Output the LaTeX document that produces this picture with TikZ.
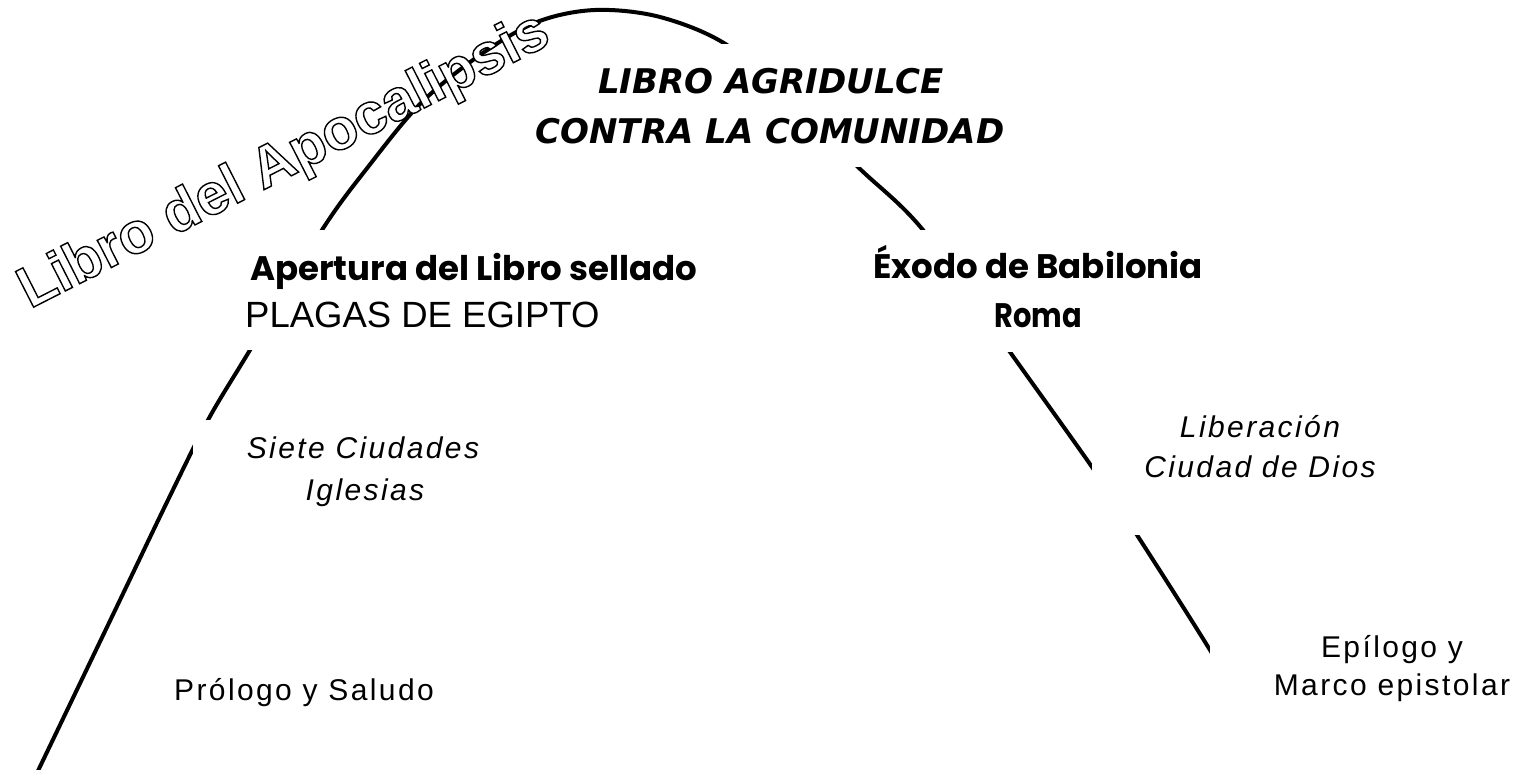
\documentclass[tikz,border=0pt]{standalone}
\usepackage{fontspec}
\usepackage{graphicx}
\setmainfont{Liberation Sans}
\newfontfamily\titlefont{DejaVu Sans}
\newfontfamily\headfont{Poppins}
\newfontfamily\labelfont{Liberation Sans}[LetterSpace=8]
\newfontfamily\plagasfont{Liberation Sans}
\newfontfamily\outlinefont{Liberation Sans}
\newcommand{\outlinedtext}[1]{\special{pdf:literal direct 0 G 2 Tr 1.4 w}#1\special{pdf:literal direct 0 Tr}}
\begin{document}
\begin{tikzpicture}[x=1pt,y=-1pt,
  arcline/.style={line width=4pt, black, line cap=round},
  cover/.style={fill=white, draw=none, inner sep=0pt, outer sep=0pt},
  titletext/.style={font={\titlefont\bfseries\itshape\fontsize{34}{40}\selectfont}, inner sep=0pt, anchor=base},
  headtext/.style={font={\headfont\bfseries\fontsize{34}{40}\selectfont}, inner sep=0pt, anchor=base},
  plagastext/.style={font={\plagasfont\fontsize{36.5}{40}\selectfont}, inner sep=0pt, anchor=base},
  itltext/.style={font={\labelfont\itshape\fontsize{30}{36}\selectfont}, inner sep=0pt, anchor=base},
  regtext/.style={font={\labelfont\fontsize{30}{36}\selectfont}, inner sep=0pt, anchor=base},
  outl/.style={font={\outlinefont\bfseries\fontsize{58}{60}\selectfont}, text=white, inner sep=0pt, anchor=base west, rotate=27}
]
\useasboundingbox (0,0) rectangle (1535,769);
\fill[white] (0,0) rectangle (1535,769);

% the arch
\draw[arcline] plot[smooth, tension=0.55] coordinates {
  (36,775) (120,600) (168,500) (208,420) (250,350) (322,230) (368,167)
  (421,103) (480,55) (537,22) (595,10) (660,17) (727,45)
  (795,104) (858,167) (923,230) (1010,352) (1092,467) (1137,535)
  (1210,650) (1285,775)};

% white boxes behind the labels
\node[cover, minimum width=530pt, minimum height=123pt] (titlebox) at (770,105.5) {};
\node[cover, minimum width=474pt, minimum height=120pt] (aperturabox) at (475,290) {};
\node[cover, minimum width=355pt, minimum height=122pt] (exodobox) at (1037.5,291) {};
\node[cover, minimum width=340pt, minimum height=100pt] (sietebox) at (363,470) {};
\node[cover, minimum width=336pt, minimum height=180pt] (liberbox) at (1260,445) {};
\node[cover, minimum width=364pt, minimum height=214pt] (epibox) at (1392,672) {};

% labels
\node[titletext] (title1) at (771,93) {LIBRO AGRIDULCE};
\node[titletext] (title2) at (770,143) {CONTRA LA COMUNIDAD};

\node[headtext, anchor=base west] (apertura) at (250,280) {Apertura del Libro sellado};
\node[plagastext, anchor=base west] (plagas) at (245,327) {PLAGAS DE EGIPTO};

\node[headtext] (exodo) at (1038,278) {Éxodo de Babilonia};
\node[headtext] (roma) at (1038,327) {\scalebox{0.85}[1]{Roma}};

\node[itltext] (siete) at (363,458) {Siete Ciudades};
\node[itltext] (iglesias) at (365,500) {Iglesias};

\node[itltext] (liberacion) at (1260,437) {Liberación};
\node[itltext] (ciudad) at (1260,477) {Ciudad de Dios};

\node[regtext] (epilogo) at (1392,657) {Epílogo y};
\node[regtext] (marco) at (1392,695) {Marco epistolar};

\node[regtext] (prologo) at (304,700) {Prólogo y Saludo};

% outlined title along the left of the arch
\node[outl] (outline) at (30,309) {\outlinedtext{Libro del Apocalipsis}};
\end{tikzpicture}
\end{document}
